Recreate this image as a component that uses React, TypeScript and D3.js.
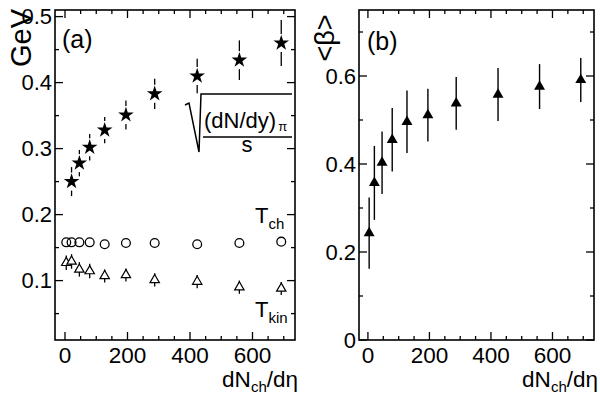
import React from "react";
import * as d3 from "d3";

// ---- data ----
const multX = [4, 21, 46, 79, 127, 195, 287, 423, 558, 692];
const starX = [21, 46, 79, 127, 195, 287, 423, 558, 692];
const starY = [0.25, 0.278, 0.302, 0.328, 0.351, 0.383, 0.41, 0.434, 0.46];
const starErr = [0.022, 0.02, 0.02, 0.02, 0.022, 0.023, 0.026, 0.03, 0.035];
const tchY = [0.158, 0.158, 0.158, 0.158, 0.155, 0.157, 0.157, 0.155, 0.157, 0.159];
const tkinY = [0.127, 0.129, 0.117, 0.1145, 0.107, 0.1085, 0.101, 0.0985, 0.09, 0.088];
const tkinErr = [0.011, 0.011, 0.011, 0.011, 0.01, 0.01, 0.01, 0.01, 0.01, 0.01];
const betaY = [0.243, 0.357, 0.403, 0.455, 0.496, 0.511, 0.538, 0.558, 0.576, 0.591];
const betaErr = [0.081, 0.084, 0.071, 0.072, 0.071, 0.06, 0.06, 0.06, 0.051, 0.05];

const xMajor = [0, 200, 400, 600];
const xMinor = [50, 100, 150, 250, 300, 350, 450, 500, 550, 650, 700];
const aYMajor = [0.1, 0.2, 0.3, 0.4, 0.5];
const aYMinor = [0.05, 0.15, 0.25, 0.35, 0.45];
const bYMajor = [0, 0.2, 0.4, 0.6];
const bYMinor = [0.1, 0.3, 0.5, 0.7];

const FONT = "'Liberation Sans', Arial, Helvetica, sans-serif";

const ax = d3.scaleLinear().domain([-32, 736]).range([55, 295]);
const ay = d3.scaleLinear().domain([0.01, 0.51]).range([340, 10]);
const bx = d3.scaleLinear().domain([-29, 735]).range([359, 594]);
const by = d3.scaleLinear().domain([0, 0.75]).range([340, 10]);

const starPath = d3.symbol().type(d3.symbolStar).size(76)()!;
const triOpen = d3.symbol().type(d3.symbolTriangle).size(38)()!;
const triFilled = d3.symbol().type(d3.symbolTriangle).size(52)()!;

function Frame({ x, y, yMajor, yMinor, fmt }: any) {
  const [x0, x1] = x.range();
  const [y0, y1] = y.range();
  const maj = 8, min = 4;
  return (
    <g stroke="#000" fill="none">
      <rect x={x0} y={y1} width={x1 - x0} height={y0 - y1} strokeWidth={1.6} />
      {xMajor.map((v) => (
        <g key={"xM" + v}>
          <line x1={x(v)} x2={x(v)} y1={y0} y2={y0 - maj} strokeWidth={1.3} />
          <line x1={x(v)} x2={x(v)} y1={y1} y2={y1 + maj} strokeWidth={1.3} />
        </g>
      ))}
      {xMinor.map((v) => (
        <g key={"xm" + v}>
          <line x1={x(v)} x2={x(v)} y1={y0} y2={y0 - min} strokeWidth={1.3} />
          <line x1={x(v)} x2={x(v)} y1={y1} y2={y1 + min} strokeWidth={1.3} />
        </g>
      ))}
      {yMajor.map((v: number) => (
        <g key={"yM" + v}>
          <line x1={x0} x2={x0 + maj} y1={y(v)} y2={y(v)} strokeWidth={1.3} />
          <line x1={x1} x2={x1 - maj} y1={y(v)} y2={y(v)} strokeWidth={1.3} />
        </g>
      ))}
      {yMinor.map((v: number) => (
        <g key={"ym" + v}>
          <line x1={x0} x2={x0 + min} y1={y(v)} y2={y(v)} strokeWidth={1.3} />
          <line x1={x1} x2={x1 - min} y1={y(v)} y2={y(v)} strokeWidth={1.3} />
        </g>
      ))}
      <g fill="#000" stroke="none" fontFamily={FONT}>
        {xMajor.map((v) => (
          <text key={"xl" + v} x={x(v)} y={363} fontSize={22.5} textAnchor="middle">
            {v}
          </text>
        ))}
        {yMajor.map((v: number) => (
          <text key={"yl" + v} x={x0 - 3} y={y(v) + 7.8} fontSize={22} textAnchor="end">
            {fmt(v)}
          </text>
        ))}
      </g>
    </g>
  );
}

function XLabel({ right }: { right: number }) {
  return (
    <text x={right} y={387} fontSize={22.5} textAnchor="end" fontFamily={FONT} fill="#000">
      dN<tspan fontSize={15} dy={5}>ch</tspan>
      <tspan dy={-5}>/dη</tspan>
    </text>
  );
}

export default function App() {
  const gap = 9;
  return (
    <svg
      width={600}
      height={398}
      style={{ position: "absolute", left: 0, top: 0, background: "#fff" }}
    >
      <rect width={600} height={398} fill="#fff" />
      <Frame x={ax} y={ay} yMajor={aYMajor} yMinor={aYMinor} fmt={(v: number) => v.toFixed(1)} />
      <Frame
        x={bx}
        y={by}
        yMajor={bYMajor}
        yMinor={bYMinor}
        fmt={(v: number) => (v === 0 ? "0" : v.toFixed(1))}
      />

      {/* stars with error bars */}
      {starX.map((xv, i) => {
        const cx = ax(xv), cy = ay(starY[i]);
        const top = ay(starY[i] + starErr[i]);
        const bot = ay(starY[i] - starErr[i]);
        return (
          <g key={"s" + i}>
            <line x1={cx} x2={cx} y1={top} y2={cy - gap} stroke="#000" strokeWidth={1.3} />
            <line x1={cx} x2={cx} y1={cy + gap} y2={bot} stroke="#000" strokeWidth={1.3} />
            <path d={starPath} transform={`translate(${cx},${cy})`} fill="#000" />
          </g>
        );
      })}

      {/* T_ch circles */}
      {multX.map((xv, i) => (
        <circle
          key={"c" + i}
          cx={ax(xv)}
          cy={ay(tchY[i])}
          r={4.4}
          fill="none"
          stroke="#000"
          strokeWidth={1.3}
        />
      ))}

      {/* T_kin open triangles */}
      {multX.map((xv, i) => {
        const cx = ax(xv), cy = ay(tkinY[i]);
        return (
          <g key={"t" + i}>
            <line
              x1={cx}
              x2={cx}
              y1={ay(tkinY[i] + tkinErr[i])}
              y2={ay(tkinY[i] - tkinErr[i])}
              stroke="#000"
              strokeWidth={1.3}
            />
            <path
              d={triOpen}
              transform={`translate(${cx},${cy})`}
              fill="#fff"
              stroke="#000"
              strokeWidth={1.2}
            />
          </g>
        );
      })}

      {/* Panel (b) filled triangles */}
      {multX.map((xv, i) => {
        const cx = bx(xv), cy = by(betaY[i]);
        return (
          <g key={"b" + i}>
            <line
              x1={cx}
              x2={cx}
              y1={by(betaY[i] + betaErr[i])}
              y2={by(betaY[i] - betaErr[i])}
              stroke="#000"
              strokeWidth={1.4}
            />
            <path d={triFilled} transform={`translate(${cx},${cy})`} fill="#000" />
          </g>
        );
      })}

      {/* texts */}
      <g fontFamily={FONT} fill="#000">
        <text x={62} y={48} fontSize={25}>(a)</text>
        <text x={367} y={50} fontSize={25}>(b)</text>
        <text transform="translate(31,38) rotate(-90)" fontSize={29} textAnchor="middle">
          GeV
        </text>
        <text transform="translate(334,38) rotate(-90)" fontSize={27} textAnchor="middle">
          {"<β>"}
        </text>
        <text x={255} y={223} fontSize={22}>
          T<tspan fontSize={15} dy={6}>ch</tspan>
        </text>
        <text x={255} y={317} fontSize={22}>
          T<tspan fontSize={15} dy={6}>kin</tspan>
        </text>
        <text x={204} y={128} fontSize={22}>
          (dN/dy)<tspan fontSize={13} dx={2} dy={3}>π</tspan>
        </text>
        <text x={247} y={152} fontSize={22} textAnchor="middle">s</text>
      </g>
      <path
        d="M185,105 L189,103 L199,152 L201,94 L292,94"
        fill="none"
        stroke="#000"
        strokeWidth={1.5}
      />
      <line x1={203} x2={292} y1={137} y2={137} stroke="#000" strokeWidth={1.5} />
      <XLabel right={298} />
      <XLabel right={598} />
    </svg>
  );
}
